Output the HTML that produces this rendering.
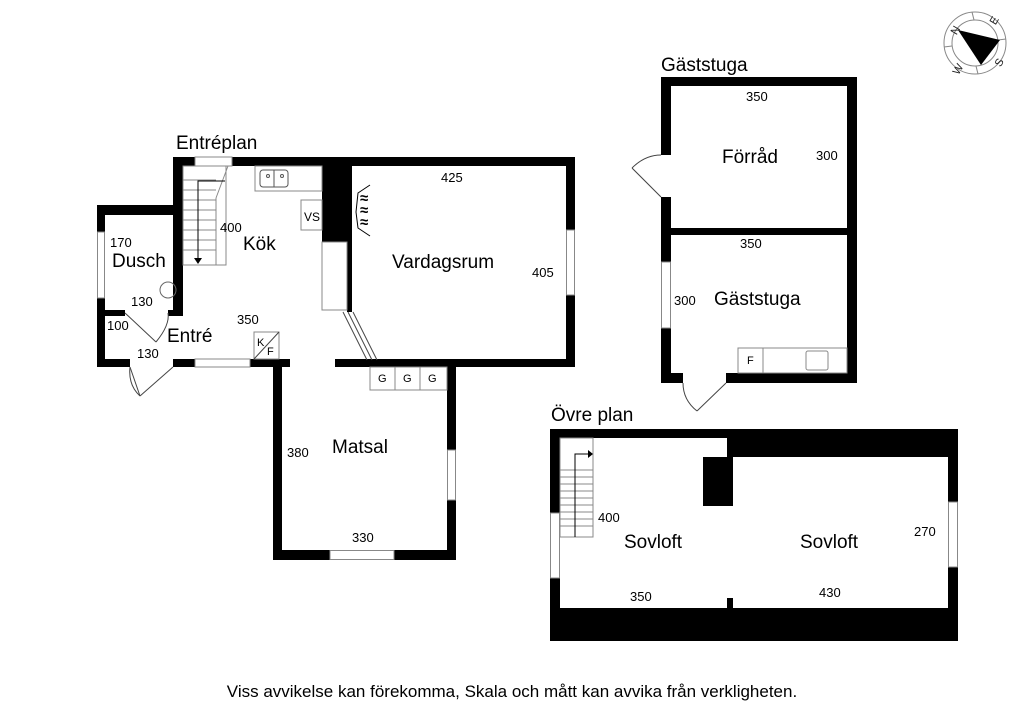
<!DOCTYPE html>
<html><head><meta charset="utf-8"><style>
html,body{margin:0;padding:0;background:#fff;}
svg{display:block;font-family:"Liberation Sans",Arial,sans-serif;}
</style></head><body>
<svg width="1024" height="724" viewBox="0 0 1024 724" xmlns="http://www.w3.org/2000/svg">
<rect width="1024" height="724" fill="#fff"/>
<g stroke="#888" fill="none" stroke-width="1">
<circle cx="975" cy="43" r="31"/><circle cx="975" cy="43" r="23"/>
<line x1="972" y1="12" x2="974" y2="20"/><line x1="1006" y1="39" x2="998" y2="40"/>
<line x1="978" y1="74" x2="976" y2="66"/><line x1="944" y1="47" x2="952" y2="46"/>
</g>
<polygon points="958,30 1000,40 981,65" fill="#000"/>
<g font-size="11" fill="#222">
<text x="951" y="34" transform="rotate(-60 955 30)">N</text>
<text x="990" y="24" transform="rotate(-60 994 20)">E</text>
<text x="995" y="66" transform="rotate(-60 999 62)">S</text>
<text x="953" y="74" transform="rotate(-60 957 70)">W</text>
</g>

<text x="176" y="149" font-size="19">Entréplan</text>
<g fill="#000">
<rect x="173" y="157" width="402" height="9"/>
<rect x="173" y="157" width="10" height="158"/>
<rect x="97" y="205" width="86" height="10"/>
<rect x="97" y="205" width="8" height="162"/>
<rect x="105" y="310" width="20" height="6"/>
<rect x="168" y="310" width="15" height="6"/>
<rect x="97" y="359" width="33" height="8"/>
<rect x="173" y="359" width="117" height="8"/>
<rect x="273" y="359" width="9" height="201"/>
<rect x="273" y="550" width="183" height="10"/>
<rect x="447" y="359" width="9" height="201"/>
<rect x="335" y="359" width="240" height="8"/>
<rect x="322" y="157" width="30" height="85"/>
<rect x="347" y="157" width="5" height="155"/>
<rect x="566" y="157" width="9" height="210"/>
</g>
<g fill="#fff" stroke="#888" stroke-width="1">
<rect x="195" y="157" width="37" height="9"/>
<rect x="97.5" y="232" width="7" height="66"/>
<rect x="195" y="359" width="55" height="8"/>
<rect x="566.5" y="230" width="8" height="65"/>
<rect x="447.5" y="450" width="8" height="50"/>
<rect x="330" y="550.5" width="64" height="9"/>
<rect x="322" y="242" width="25" height="68"/>
<rect x="255" y="166" width="67" height="25"/>
<rect x="301" y="200" width="21" height="30"/>
<rect x="254" y="332" width="25" height="27"/>
<rect x="370" y="367" width="77" height="23"/>
</g>
<line x1="395" y1="367" x2="395" y2="390" stroke="#888"/>
<line x1="420" y1="367" x2="420" y2="390" stroke="#888"/>
<line x1="254" y1="359" x2="279" y2="332" stroke="#444"/>
<g fill="none" stroke="#555">
<rect x="260" y="170" width="28" height="17" rx="3"/><line x1="274" y1="170" x2="274" y2="187"/>
<circle cx="268" cy="176" r="1.5"/><circle cx="282" cy="176" r="1.5"/>
</g>
<g stroke="#888" fill="none">
<rect x="183" y="166" width="43" height="99"/>
<line x1="183" y1="180" x2="216" y2="180"/><line x1="183" y1="190" x2="216" y2="190"/>
<line x1="183" y1="200" x2="216" y2="200"/><line x1="183" y1="210" x2="216" y2="210"/>
<line x1="183" y1="220" x2="216" y2="220"/><line x1="183" y1="230" x2="216" y2="230"/>
<line x1="183" y1="240" x2="216" y2="240"/><line x1="183" y1="250" x2="216" y2="250"/>
<line x1="216" y1="198" x2="216" y2="265"/><line x1="216" y1="198" x2="228" y2="166"/>
</g>
<path d="M225,181 L198,181 L198,262" stroke="#000" fill="none"/>
<polygon points="194,258 202,258 198,264" fill="#000"/>
<g stroke="#444" fill="none">
<line x1="125" y1="313" x2="156" y2="342"/><path d="M156,342 Q170,325 168,313"/>
<line x1="130" y1="367" x2="140" y2="396"/><path d="M140,396 L173,367" /><path d="M130,367 Q128,385 140,396"/>
<line x1="343" y1="312" x2="367" y2="360"/><line x1="348" y1="312" x2="372" y2="360"/><line x1="353" y1="312" x2="377" y2="360"/>
<path d="M370,185 L358,193 L356,212 L358,228 L370,236" stroke="#000"/>
</g>
<g font-size="15" fill="#000" font-weight="bold">
<text x="360" y="203">≈</text><text x="360" y="215">≈</text><text x="360" y="227">≈</text>
</g>
<circle cx="168" cy="290" r="8" fill="none" stroke="#666"/>
<g font-size="13" fill="#000">
<text x="220" y="232">400</text><text x="110" y="247">170</text>
<text x="131" y="306">130</text><text x="107" y="330">100</text>
<text x="137" y="358">130</text><text x="237" y="324">350</text>
<text x="441" y="182">425</text><text x="532" y="277">405</text>
<text x="287" y="457">380</text><text x="352" y="542">330</text>
<text x="304" y="221" font-size="12">VS</text>
<text x="257" y="346" font-size="11">K</text><text x="267" y="355" font-size="11">F</text>
<text x="378" y="382" font-size="11">G</text><text x="403" y="382" font-size="11">G</text><text x="428" y="382" font-size="11">G</text>
</g>
<g font-size="19" fill="#000">
<text x="243" y="250">Kök</text><text x="112" y="267">Dusch</text>
<text x="167" y="342">Entré</text><text x="392" y="268">Vardagsrum</text>
<text x="332" y="453">Matsal</text>
</g>

<text x="661" y="71" font-size="19">Gäststuga</text>
<g fill="#000">
<rect x="661" y="77" width="196" height="9"/>
<rect x="847" y="77" width="10" height="306"/>
<rect x="661" y="77" width="10" height="78"/>
<rect x="661" y="197" width="10" height="186"/>
<rect x="661" y="228" width="196" height="7"/>
<rect x="661" y="373" width="22" height="10"/>
<rect x="726" y="373" width="131" height="10"/>
</g>
<g fill="#fff" stroke="#888">
<rect x="661.5" y="262" width="9" height="66"/>
<rect x="738" y="348" width="109" height="25"/>
<rect x="738" y="348" width="25" height="25"/>
<rect x="806" y="351" width="22" height="19" rx="2"/>
</g>
<g stroke="#444" fill="none">
<line x1="661" y1="197" x2="632" y2="168"/><path d="M632,168 Q645,155 661,155"/>
<line x1="726" y1="383" x2="697" y2="411"/><path d="M697,411 Q683,400 683,383"/>
</g>
<g font-size="13"><text x="746" y="101">350</text><text x="816" y="160">300</text>
<text x="740" y="248">350</text><text x="674" y="305">300</text>
<text x="747" y="364" font-size="11">F</text></g>
<g font-size="19"><text x="722" y="163">Förråd</text><text x="714" y="305">Gäststuga</text></g>

<text x="551" y="421" font-size="19">Övre plan</text>
<rect x="550" y="429" width="408" height="212" fill="#000"/>
<rect x="560" y="438" width="167" height="170" fill="#fff"/>
<rect x="727" y="457" width="221" height="151" fill="#fff"/>
<rect x="703" y="457" width="30" height="49" fill="#000"/>
<rect x="727" y="598" width="6" height="10" fill="#000"/>
<g fill="#fff" stroke="#888">
<rect x="550.5" y="513" width="9" height="65"/>
<rect x="948.5" y="502" width="9" height="65"/>
<rect x="560" y="438" width="33" height="99"/>
</g>
<g stroke="#888">
<line x1="560" y1="470" x2="593" y2="470"/><line x1="560" y1="477" x2="593" y2="477"/>
<line x1="560" y1="484" x2="593" y2="484"/><line x1="560" y1="491" x2="593" y2="491"/>
<line x1="560" y1="498" x2="593" y2="498"/><line x1="560" y1="505" x2="593" y2="505"/>
<line x1="560" y1="512" x2="593" y2="512"/><line x1="560" y1="519" x2="593" y2="519"/>
<line x1="560" y1="526" x2="593" y2="526"/>
</g>
<path d="M575,537 L575,454 L589,454" stroke="#000" fill="none"/>
<polygon points="588,450 593,454 588,458" fill="#000"/>
<g font-size="13"><text x="598" y="522">400</text><text x="914" y="536">270</text>
<text x="630" y="601">350</text><text x="819" y="597">430</text></g>
<g font-size="19"><text x="624" y="548">Sovloft</text><text x="800" y="548">Sovloft</text></g>

<text x="512" y="697" font-size="17" text-anchor="middle">Viss avvikelse kan förekomma, Skala och mått kan avvika från verkligheten.</text>
</svg>
</body></html>
